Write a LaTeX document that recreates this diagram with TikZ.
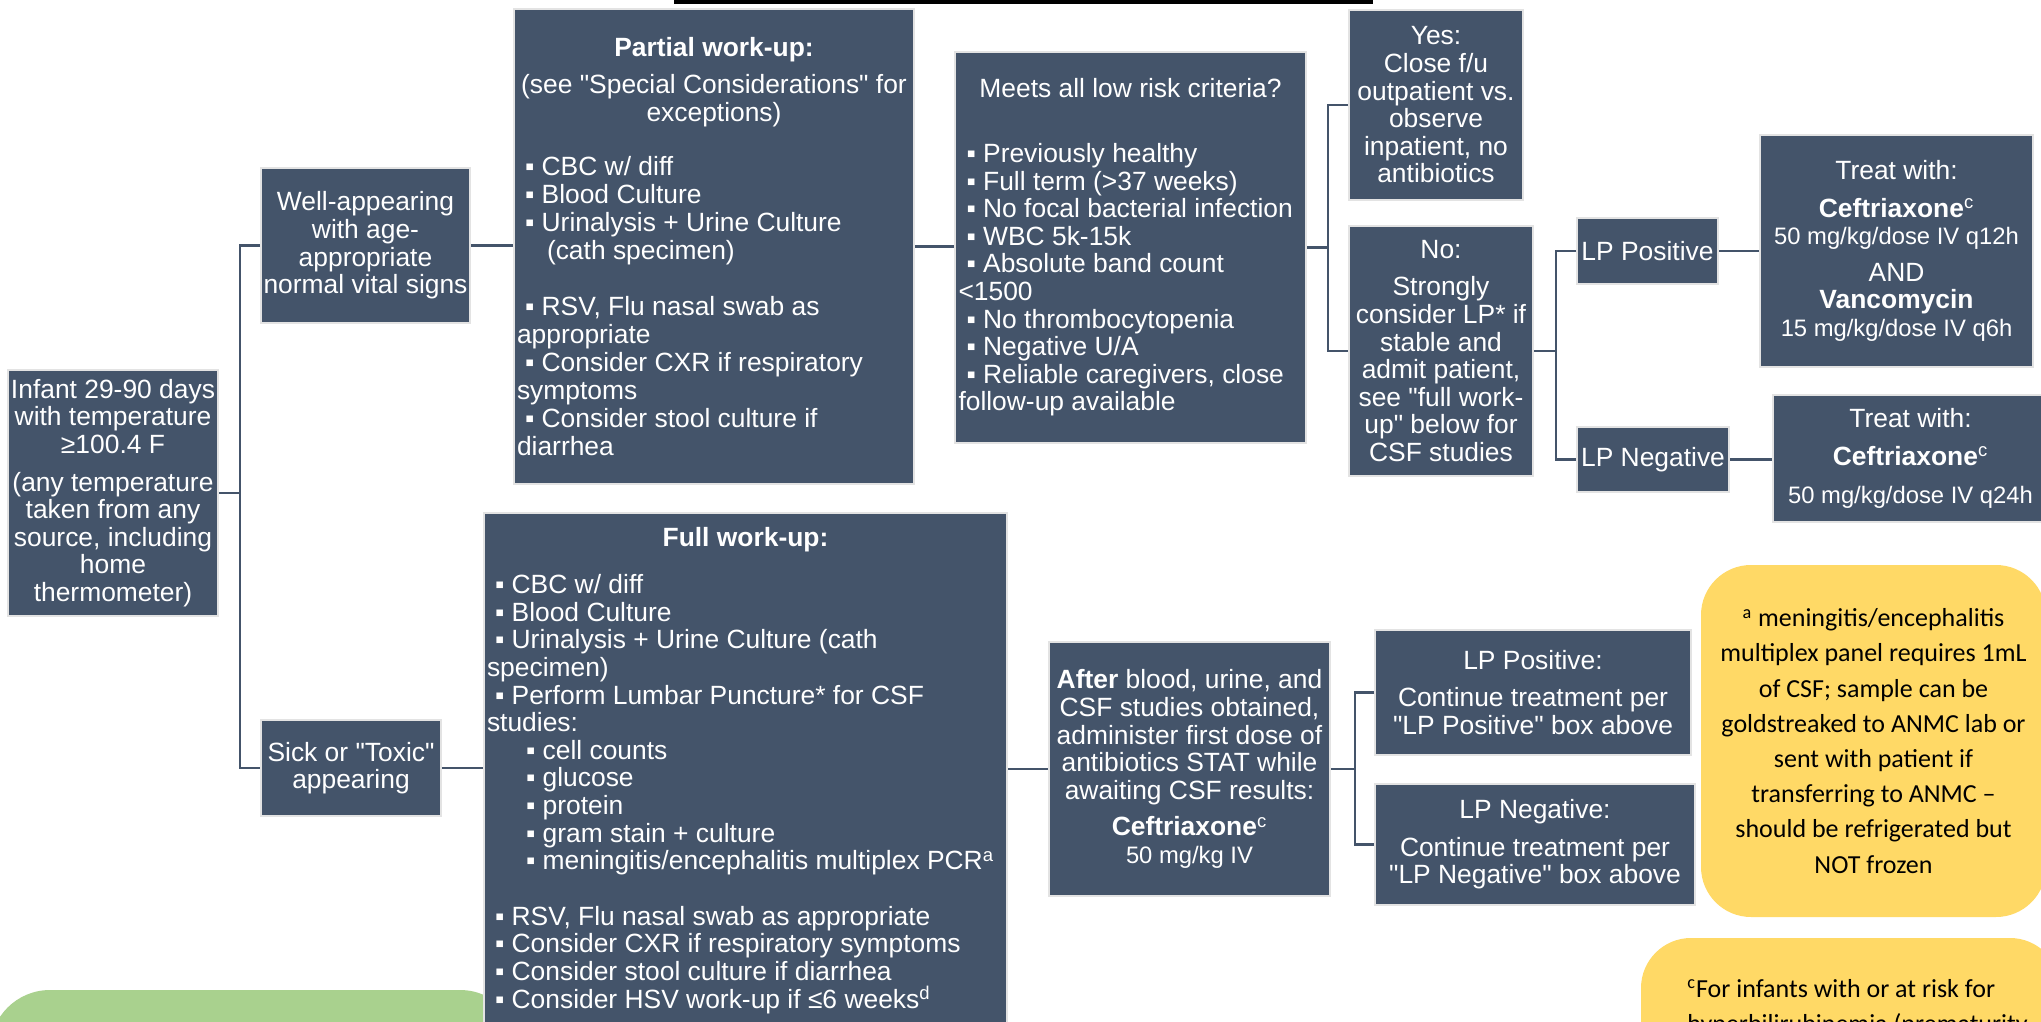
\documentclass[tikz,border=0pt]{standalone}
\usepackage{fontspec}
\setmainfont{Liberation Sans}[Ligatures=TeXOff]
\newfontfamily\calib{Carlito}
\definecolor{boxc}{HTML}{44546A}
\definecolor{bordc}{HTML}{E3E3E3}
\definecolor{noteY}{HTML}{FFD966}
\definecolor{noteG}{HTML}{A9D18E}
\newcommand{\bu}{\hspace*{4pt}▪\ }
\newcommand{\dq}{\symbol{34}}
\newcommand{\dose}{\fontsize{11.9pt}{13.8pt}\selectfont}
\begin{document}
\begin{tikzpicture}[x=0.5pt,y=-0.5pt,
  box/.style={draw=bordc,line width=1pt,fill=boxc,text=white,
    font=\fontsize{13.2pt}{13.8pt}\selectfont,inner xsep=1.5pt,inner ysep=1.5pt},
  cbox/.style={box,align=center},
  conn/.style={draw=boxc,line width=1.1pt},
  note/.style={fill=noteY,rounded corners=25pt,text=black,align=center,
    font=\calib\fontsize{13pt}{17.6pt}\selectfont},
  ctext/.style={text=black,inner sep=0pt,font=\calib\fontsize{13pt}{17.6pt}\selectfont}
]
\useasboundingbox (0,0) rectangle (2041,1022);
\clip (0,0) rectangle (2041,1022);

% background shapes
\fill[black] (674,0) rectangle (1373,4);
\fill[noteG,rounded corners=30pt] (-10,990) rectangle (520,1100);
\fill[noteY,rounded corners=25pt] (1641,938) rectangle (2060,1100);

% column 1
\node[cbox,minimum width=105pt,minimum height=123pt] (infant) at (113,493)
  {Infant 29-90 days\\ with temperature\\ ≥100.4 F\\[5pt] (any temperature\\ taken from any\\ source, including\\ home\\ thermometer)};

% column 2
\node[cbox,minimum width=104.5pt,minimum height=77.5pt] (well) at (365.5,245.5)
  {Well-appearing\\ with age-\\ appropriate\\ normal vital signs};
\node[cbox,minimum width=90pt,minimum height=48pt] (sick) at (351,768)
  {Sick or \dq{}Toxic\dq{}\\ appearing};

% partial work-up
\node[box,minimum width=200pt,minimum height=237.5pt] (partial) at (714,246.5)
  {\parbox{197pt}{\fontsize{13.2pt}{14pt}\selectfont\centering
   \textbf{Partial work-up:}\\[4.3pt]
   (see \dq{}Special Considerations\dq{} for\\ exceptions)\par
   \vspace{12.8pt}\raggedright
   \bu CBC w/ diff\\
   \bu Blood Culture\\
   \bu Urinalysis + Urine Culture\\
   \hspace*{15pt}(cath specimen)\\[14pt]
   \bu RSV, Flu nasal swab as\\ appropriate\\
   \bu Consider CXR if respiratory\\ symptoms\\
   \bu Consider stool culture if\\ diarrhea}};

% meets criteria
\node[box,minimum width=175.5pt,minimum height=195.5pt] (meets) at (1130.5,247.5)
  {\parbox{172pt}{\centering Meets all low risk criteria?\par
   \vspace{18.5pt}\raggedright
   \bu Previously healthy\\
   \bu Full term (>37 weeks)\\
   \bu No focal bacterial infection\\
   \bu WBC 5k-15k\\
   \bu Absolute band count\\ <1500\\
   \bu No thrombocytopenia\\
   \bu Negative U/A\\
   \bu Reliable caregivers, close\\ follow-up available}};

% yes / no
\node[cbox,minimum width=87pt,minimum height=95pt] (yes) at (1436,105)
  {Yes:\\ Close f/u\\ outpatient vs.\\ observe\\ inpatient, no\\ antibiotics};
\node[cbox,minimum width=92pt,minimum height=125pt] (no) at (1441,351)
  {No:\\[5pt] Strongly\\ consider LP* if\\ stable and\\ admit patient,\\ see \dq{}full work-\\ up\dq{} below for\\ CSF studies};

% LP results
\node[cbox,minimum width=70.5pt,minimum height=33pt] (lppos) at (1647.5,251) {LP Positive};
\node[cbox,minimum width=76pt,minimum height=32.5pt] (lpneg) at (1653,459.5) {LP Negative};

% treatments
\node[cbox,minimum width=136.5pt,minimum height=116pt] (treat1) at (1896.5,251)
  {Treat with:\\[5pt] \textbf{Ceftriaxone}\textsuperscript{c}\\ {\dose 50 mg/kg/dose IV q12h}\\[4.5pt]
   AND\\ \textbf{Vancomycin}\\ {\dose 15 mg/kg/dose IV q6h}};
\node[cbox,minimum width=137.5pt,minimum height=63.5pt] (treat2) at (1910.5,458.5)
  {Treat with:\\[5pt] \textbf{Ceftriaxone}\textsuperscript{c}\\[5pt] {\dose 50 mg/kg/dose IV q24h}};

% full work-up
\node[box,anchor=north,inner ysep=7pt] (full) at (745.5,512)
  {\parbox[c][262pt][t]{258.5pt}{\centering\textbf{Full work-up:}\par
   \vspace{10pt}\raggedright
   \bu CBC w/ diff\\
   \bu Blood Culture\\
   \bu Urinalysis + Urine Culture (cath\\ specimen)\\
   \bu Perform Lumbar Puncture* for CSF\\ studies:\\
   \hspace*{15.5pt}\bu cell counts\\
   \hspace*{15.5pt}\bu glucose\\
   \hspace*{15.5pt}\bu protein\\
   \hspace*{15.5pt}\bu gram stain + culture\\
   \hspace*{15.5pt}\bu meningitis/encephalitis multiplex PCR\textsuperscript{a}\\[14pt]
   \bu RSV, Flu nasal swab as appropriate\\
   \bu Consider CXR if respiratory symptoms\\
   \bu Consider stool culture if diarrhea\\
   \bu Consider HSV work-up if ≤6 weeks\textsuperscript{d}}};

% after
\node[cbox,minimum width=140.5pt,minimum height=127pt] (after) at (1189.5,769)
  {\textbf{After} blood, urine, and\\ CSF studies obtained,\\ administer first dose of\\ antibiotics STAT while\\ awaiting CSF results:\\[4.5pt]
   \textbf{Ceftriaxone}\textsuperscript{c}\\ {\dose 50 mg/kg IV}};

\node[cbox,minimum width=158pt,minimum height=62.5pt] (lppos2) at (1533,692.5)
  {LP Positive:\\[5pt] Continue treatment per\\ \dq{}LP Positive\dq{} box above};
\node[cbox,minimum width=160pt,minimum height=60.5pt] (lpneg2) at (1535,844.5)
  {LP Negative:\\[5pt] Continue treatment per\\ \dq{}LP Negative\dq{} box above};

% notes
\node[note,minimum width=172.5pt,minimum height=176pt] (anote) at (1873.5,741)
  {\textsuperscript{a} meningitis/encephalitis\\ multiplex panel requires 1mL\\ of CSF; sample can be\\
   goldstreaked to ANMC lab or\\ sent with patient if\\ transferring to ANMC –\\
   should be refrigerated but\\ NOT frozen};
\node[ctext,anchor=base west] (cnote1) at (1687,997) {\textsuperscript{c}For infants with or at risk for};
\node[ctext,anchor=base west] (cnote2) at (1687,1032) {hyperbilirubinemia (prematurity};

% connectors
\coordinate (j1) at ([xshift=10.5pt]infant.east);
\draw[conn] (infant.east) -- (j1);
\draw[conn] (well.west) -| (j1) |- (sick.west);
\draw[conn] (well.east) -- (well.east -| partial.west);
\draw[conn] (partial.east) -- (partial.east -| meets.west);
\coordinate (j2) at ([xshift=10.5pt]meets.east);
\draw[conn] (meets.east) -- (j2);
\draw[conn] (yes.west) -| (j2) |- (no.west);
\coordinate (j3) at ([xshift=11pt]no.east);
\draw[conn] (no.east) -- (j3);
\draw[conn] (lppos.west) -| (j3) |- (lpneg.west);
\draw[conn] (lppos.east) -- (lppos.east -| treat1.west);
\draw[conn] (lpneg.east) -- (lpneg.east -| treat2.west);
\draw[conn] (sick.east) -- (sick.east -| full.west);
\draw[conn] (full.east |- after.west) -- (after.west);
\coordinate (j4) at ([xshift=12pt]after.east);
\draw[conn] (after.east) -- (j4);
\draw[conn] (lppos2.west) -| (j4) |- (lpneg2.west);
\end{tikzpicture}
\end{document}
